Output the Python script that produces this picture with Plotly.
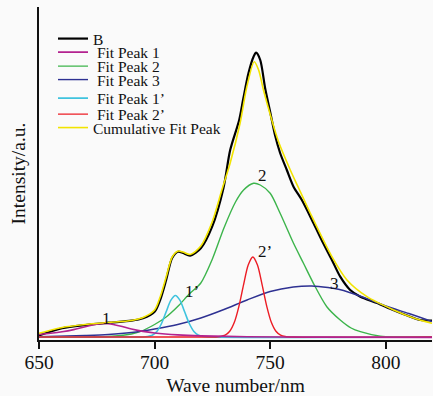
import plotly.graph_objects as go

# ---------------- data ----------------
# measured spectrum B
b_x = [650, 660, 670, 680, 690, 695, 700, 702.4, 705, 707.6, 710.2, 712.3, 715.4, 720,
       724.9, 729.8, 732.7, 736.6, 738.4, 740.6, 742.8, 743.9, 745.7,
       747.8, 750, 752.2, 754.3, 757.2, 760.1, 763.7, 768.7, 772.9, 776.7, 780.3,
       784.6, 789, 796.2, 803.2, 810.6, 814.9, 820]
b_y = [4.5, 11.7, 15, 17.3, 19.3, 21.7, 28.3, 40, 60, 82, 88.3, 87, 84.3, 91.7,
       113.3, 152, 190, 220, 241.7, 266.7, 283.3, 287.3, 280,
       252, 228, 204, 187, 170, 153.3, 140, 117, 97, 80, 63.3,
       50, 43.3, 37, 30, 23.3, 20, 19.5]

# Fit Peak 1
p1_x = [650, 655, 660, 665, 670, 675, 678, 680, 685, 690, 695, 700, 710, 720, 740, 770, 820]
p1_y = [5.6, 6.7, 8.2, 10.4, 13.3, 15.8, 16.5, 16.2, 14.0, 11.0, 8.6, 7.0, 5.1, 4.1, 3.3, 2.9, 2.6]

# Fit Peak 2
p2_x = [650, 680, 690, 693.7, 700, 705, 710, 715, 720, 725, 730, 735, 738.5, 742.8,
        745.7, 750, 754.3, 760.1, 764.4, 768.7, 774.5, 780.3, 785, 789, 797.6, 805, 820]
p2_y = [3, 3.5, 6, 8.3, 15.5, 23, 33.5, 46, 57, 81, 112, 138, 150, 156.7,
        155, 146.7, 126.7, 96.7, 76.7, 56.7, 33.3, 20, 12, 8.3, 3.8, 3, 3]

# Fit Peak 3
p3_x = [650, 670, 680, 690, 700, 710, 720, 730, 740, 750, 760, 768, 775, 780, 790, 800, 810, 820]
p3_y = [3.2, 4.5, 5.5, 7.5, 11, 15.5, 22, 30.5, 40, 48.5, 53, 54, 52.5, 50.5, 43, 34, 26.5, 18.5]

# Fit Peak 1'
p1b_x = [650, 690, 695, 697, 699, 701, 703, 705, 707, 709, 711, 713, 715, 717, 719, 721, 723, 820]
p1b_y = [3, 3, 3, 3.5, 4.8, 8.6, 16.5, 28.2, 39.6, 44.5, 39.6, 28.2, 16.5, 8.6, 4.8, 3.5, 3, 3]

# Fit Peak 2'
p2b_x = [650, 720, 726.5, 728.5, 730.5, 732.5, 734.5, 736.5, 738.5, 740.5, 742.5,
         744.5, 746.5, 748.5, 750.5, 752.5, 754.5, 756.5, 760, 820]
p2b_y = [3, 3, 3, 3.5, 4.8, 8.7, 17.7, 33.9, 55.4, 75, 83,
         75, 55.4, 33.9, 17.7, 8.7, 4.8, 3.5, 3, 3]

# Cumulative Fit Peak
cum_x = [650, 660, 670, 680, 690, 695, 700, 702.4, 705, 707.6, 710.2, 712.3, 715.4, 720,
         724.9, 729.1, 732.7, 737, 739.9, 743.1, 745, 747.1, 750.7, 753.5, 758.7,
         762.3, 767.3, 776.7, 783.2, 791.9, 803.4, 812, 820]
cum_y = [6.7, 12.5, 15.5, 17.5, 19.5, 22.5, 30, 43, 63, 83, 89, 88, 85.5, 94,
         118, 150, 177, 217, 253.3, 278.3, 270, 250, 220, 199, 170,
         152, 127, 83.3, 60, 43.3, 30, 22, 16.7]

# peak labels
lab_text = ["1", "1\u2019", "2", "2\u2019", "3"]
lab_x = [679.2, 716.0, 746.5, 747.8, 777.7]
lab_y = [22, 48.5, 164.5, 88.5, 57]

x_ticks = [650, 700, 750, 800]

# ---------------- figure ----------------
FONT = "Liberation Serif, Times New Roman, serif"

series = [
    ("B", b_x, b_y, "#000000", 2.2, "legend"),
    (" Fit Peak 2", p2_x, p2_y, "#3cb44b", 1.4, "legend3"),
    (" Fit Peak 3", p3_x, p3_y, "#2e3192", 1.4, "legend4"),
    (" Fit Peak 1\u2019", p1b_x, p1b_y, "#3fc3de", 1.6, "legend5"),
    (" Fit Peak 2\u2019", p2b_x, p2b_y, "#ec1c24", 1.4, "legend6"),
    (" Fit Peak 1", p1_x, p1_y, "#b3228f", 1.6, "legend2"),
    ("Cumulative Fit Peak", cum_x, cum_y, "#f2e400", 1.6, "legend7"),
]

fig = go.Figure()
for name, xs, ys, col, w, lg in series:
    fig.add_trace(go.Scatter(
        x=xs, y=ys, mode="lines", name=name,
        line=dict(color=col, width=w, shape="spline", smoothing=0.8),
        legend=lg, showlegend=True,
    ))

# legend row centres (pixels from top)  -> paper coords
rows = {"legend": 39, "legend2": 52.5, "legend3": 66.5, "legend4": 80,
        "legend5": 98.5, "legend6": 114.5, "legend7": 128}
top, bottom = 7, 340
legend_layout = {}
for key, py in rows.items():
    legend_layout[key] = dict(
        x=(53 - 39) / 393, xanchor="left",
        y=(bottom - py) / (bottom - top), yanchor="middle",
        bgcolor="rgba(0,0,0,0)", borderwidth=0,
        font=dict(family=FONT, size=15.5, color="#111111"),
        itemwidth=30, tracegroupgap=0,
    )

annotations = []
for t, xv, yv in zip(lab_text, lab_x, lab_y):
    annotations.append(dict(x=xv, y=yv, xref="x", yref="y", text=t, showarrow=False,
                            font=dict(family=FONT, size=17, color="#111111")))

fig.update_layout(
    width=433, height=396,
    margin=dict(l=39, r=1, t=7, b=56),
    paper_bgcolor="#fafafa", plot_bgcolor="#fafafa",
    font=dict(family=FONT, color="#111111"),
    annotations=annotations,
    **legend_layout,
)
fig.update_xaxes(
    range=[650, 820], tickvals=x_ticks, ticks="outside", ticklen=7, tickwidth=1.5,
    tickcolor="#111111", showline=True, linewidth=2, linecolor="#111111",
    showgrid=False, zeroline=False, ticklabelstandoff=-3,
    tickfont=dict(family=FONT, size=19.5, color="#111111"),
    title=dict(text="Wave number/nm", font=dict(family=FONT, size=19.5, color="#111111"),
               standoff=6),
)
fig.update_yaxes(
    range=[0, 333], showticklabels=False, ticks="", showline=True, linewidth=1.5,
    linecolor="#111111", showgrid=False, zeroline=False,
    title=dict(text="Intensity/a.u.", font=dict(family=FONT, size=19.5, color="#111111"),
               standoff=6),
)

fig.write_html("out.html")
